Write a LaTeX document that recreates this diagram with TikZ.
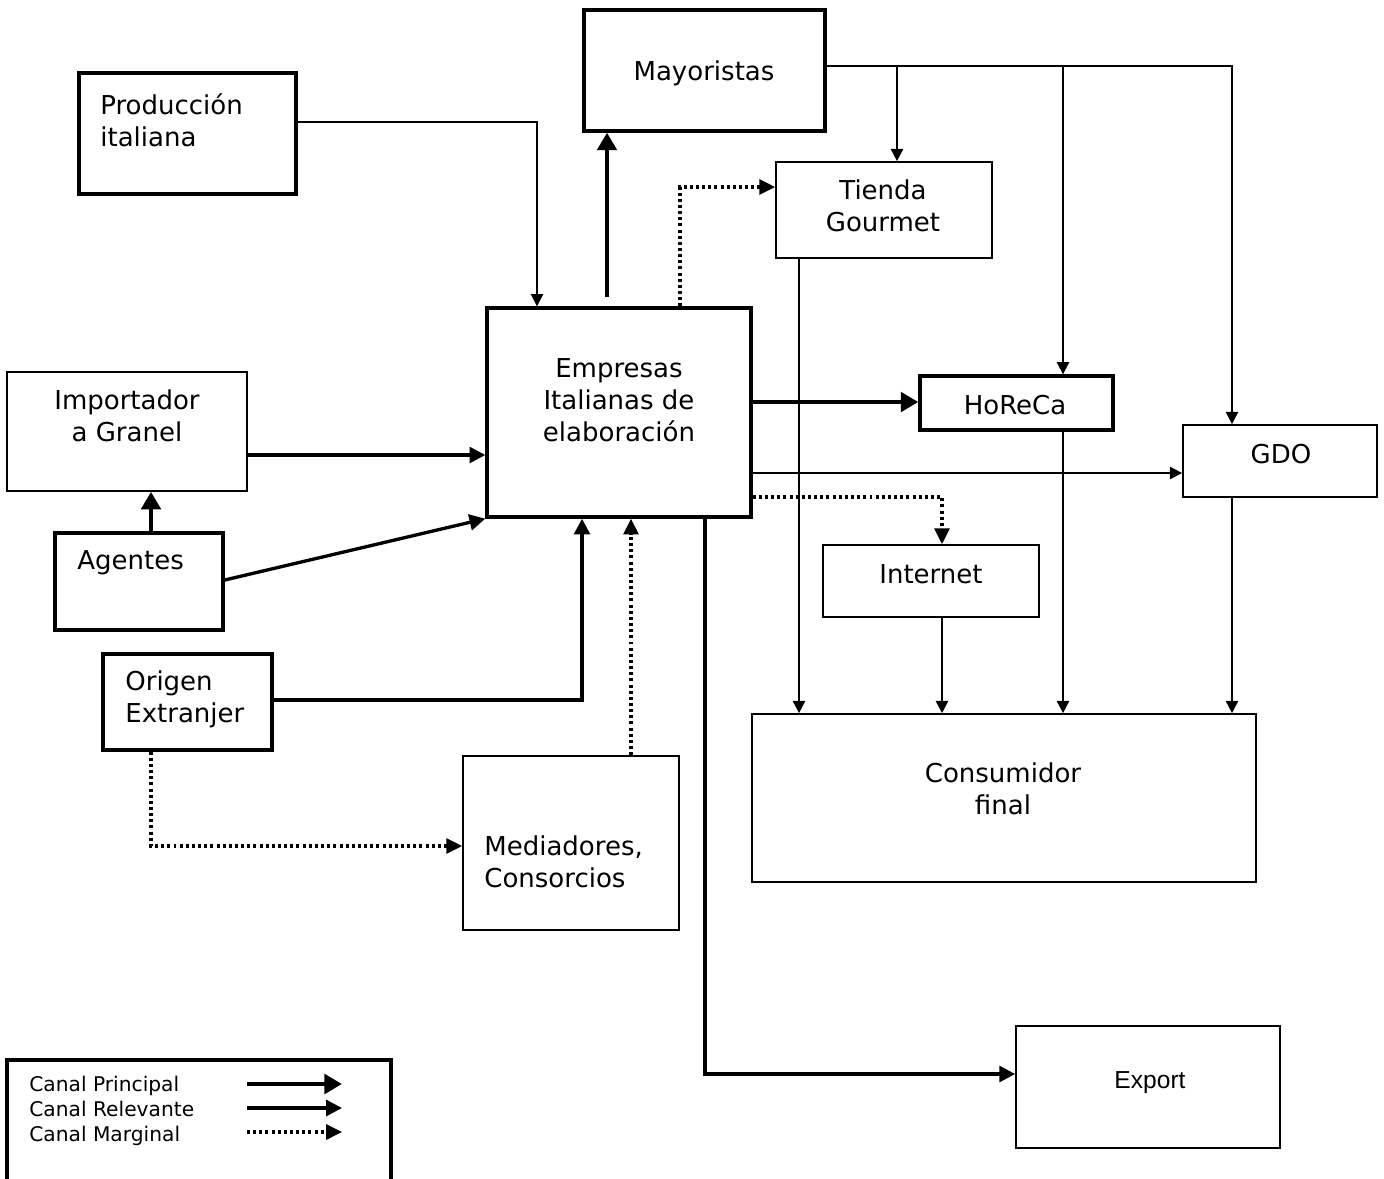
\documentclass[tikz,border=0pt]{standalone}
\usepackage{fontspec}
\setmainfont{DejaVu Sans}
\newfontfamily\arialfont[Scale=1.4]{Liberation Sans}
\usetikzlibrary{arrows.meta,fit}

\begin{document}
\begin{tikzpicture}[x=0.02cm, y=-0.02cm,
    thickbox/.style={draw, line width=1.9pt, inner sep=0pt},
    thinbox/.style={draw, line width=0.95pt, inner sep=0pt},
    txt/.style={inner sep=0pt, align=center, font=\fontsize{14.8}{18.1}\selectfont},
    arialtxt/.style={inner sep=0pt, font=\arialfont},
    principal/.style={line width=2.6pt, -{Triangle[length=10pt,width=11pt]}},
    relevante/.style={line width=1.9pt, -{Triangle[length=9pt,width=9pt]}},
    thinline/.style={line width=0.95pt, -{Triangle[length=7pt,width=7pt]}},
    marginal/.style={line width=1.8pt, dash pattern=on 1.7pt off 1.8pt, -{Triangle[length=9pt,width=8.5pt]}}]
    \useasboundingbox (0,0) rectangle (1384,1178);
    \clip (0,0) rectangle (1384,1178);

    % boxes
    \node[thickbox, fit={(79,73) (296,194)}] (prod) {};
    \node[thickbox, fit={(584,10) (825,131)}] (mayor) {};
    \node[thinbox, fit={(776,162) (992,258)}] (tienda) {};
    \node[thickbox, fit={(487,308) (751,517)}] (emp) {};
    \node[thinbox, fit={(7,372) (247,491)}] (imp) {};
    \node[thickbox, fit={(55,533) (223,630)}] (agen) {};
    \node[thickbox, fit={(920,376) (1113,430)}] (horeca) {};
    \node[thinbox, fit={(1183,425) (1377,497)}] (gdo) {};
    \node[thinbox, fit={(823,545) (1039,617)}] (inet) {};
    \node[thickbox, fit={(103,654) (272,750)}] (origen) {};
    \node[thinbox, fit={(463,756) (679,930)}] (medi) {};
    \node[thinbox, fit={(752,714) (1256,882)}] (cons) {};
    \node[thinbox, fit={(1016,1026) (1280,1148)}] (export) {};
    \node[thickbox, fit={(7,1060) (391,1200)}] (legend) {};

    % texts
    \node[txt, align=left, anchor=west] (prod-t) at (100,120) {Producción\\italiana};
    \node[txt] (mayor-t) at (704,73) {Mayoristas};
    \node[txt] (tienda-t) at (883,206) {Tienda\\Gourmet};
    \node[txt] (emp-t) at (619,400) {Empresas\\Italianas de\\elaboración};
    \node[txt] (imp-t) at (127,416) {Importador\\a Granel};
    \node[txt, anchor=west] (agen-t) at (77,563) {Agentes};
    \node[txt] (horeca-t) at (1015,405) {HoReCa};
    \node[txt] (gdo-t) at (1281,454) {GDO};
    \node[txt] (inet-t) at (931,574) {Internet};
    \node[txt, align=left, anchor=west] (origen-t) at (125,699) {Origen\\Extranjer};
    \node[txt, align=left, anchor=west] (medi-t) at (484,862) {Mediadores,\\Consorcios};
    \node[txt] (cons-t) at (1003,789) {Consumidor\\final};
    \node[arialtxt] (export-t) at (1150,1083) {Export};
    \node[txt, align=left, anchor=west, font=\fontsize{11.5}{14.2}\selectfont] (legend-t) at (29,1111)
        {Canal Principal\\Canal Relevante\\Canal Marginal};

    % connectors
    \draw[thinline] (prod.east |- 0,122) -| (emp.north -| 537,0);
    \draw[principal, shorten <=5.5pt] (emp.north -| 607,0) -- (mayor.south -| 607,0);
    \draw[marginal] (emp.north -| 680,0) |- (tienda.west |- 0,187);

    \coordinate (m1) at (897,66);
    \coordinate (m2) at (1063,66);
    \draw[thinline] (mayor.east |- 0,66) -| (gdo.north -| 1232,0);
    \draw[thinline] (m1) -- (tienda.north -| m1);
    \draw[thinline] (m2) -- (horeca.north -| m2);

    \draw[principal] (emp.east |- 0,402) -- (horeca.west |- 0,402);
    \draw[thinline] (emp.east |- 0,473) -- (gdo.west |- 0,473);
    \draw[marginal] (emp.east |- 0,497) -| (inet.north -| 942,0);
    \draw[relevante] (emp.south -| 705,0) |- (export.west |- 0,1074);

    \draw[relevante] (imp.east |- 0,455) -- (emp.west |- 0,455);
    \draw[principal] (agen.north -| 151,0) -- (imp.south -| 151,0);
    \draw[relevante] (agen.east |- 0,580) -- (emp.south west);
    \draw[relevante] (origen.east |- 0,700) -| (emp.south -| 582,0);
    \draw[marginal] (origen.south -| 151,0) |- (medi.west |- 0,846);
    \draw[marginal] (medi.north -| 631,0) -- (emp.south -| 631,0);

    \draw[thinline] (tienda.south -| 799,0) -- (cons.north -| 799,0);
    \draw[thinline] (inet.south -| 942,0) -- (cons.north -| 942,0);
    \draw[thinline] (horeca.south -| 1063,0) -- (cons.north -| 1063,0);
    \draw[thinline] (gdo.south -| 1232,0) -- (cons.north -| 1232,0);

    % legend samples
    \coordinate (l1) at (247,1084);
    \coordinate (l2) at (247,1108);
    \coordinate (l3) at (247,1132);
    \draw[principal] (l1) -- ++(95,0);
    \draw[relevante] (l2) -- ++(95,0);
    \draw[marginal] (l3) -- ++(95,0);
\end{tikzpicture}
\end{document}
